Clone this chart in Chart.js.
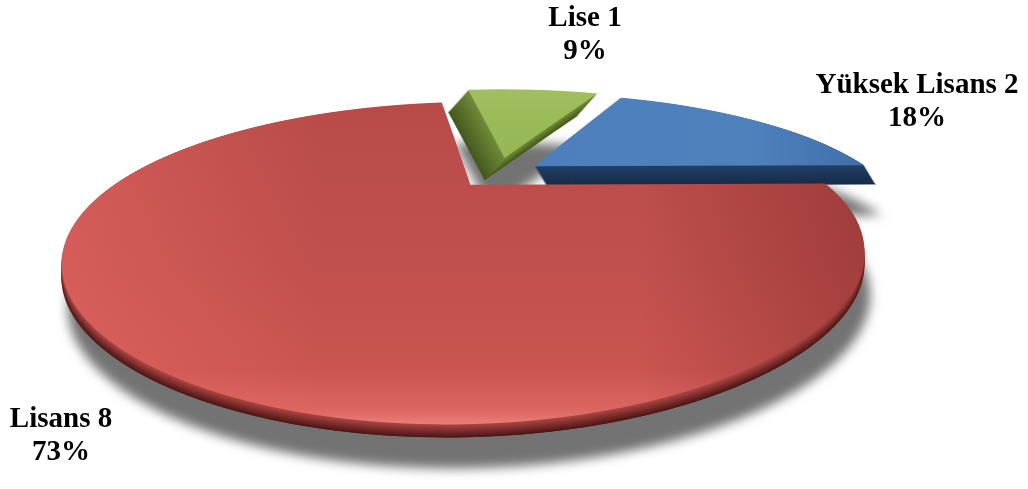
<!DOCTYPE html>
<html>
<head>
<meta charset="utf-8">
<script src="https://cdn.jsdelivr.net/npm/chart.js@4/dist/chart.umd.min.js"></script>
<style>
  html, body { margin: 0; padding: 0; background: #fff; overflow: hidden; }
</style>
</head>
<body>
<canvas id="pieChart" width="1028" height="489"></canvas>
<script>
var categories = ['Yüksek Lisans', 'Lisans', 'Lise'];
var counts = [2, 8, 1];

var topColors = ['#4F81BD', '#C0504D', '#9BBB59'];
var sideLight = ['#223F66', '#A94441', '#6F8B38'];
var sideDark = ['#172C48', '#4E1716', '#46591F'];
var explode = [0.13, 0.12, 0.153];   // in radii
var depth = [19, 13, 22];
var slant = [0.6, 0, -0.9];
var drawOrder = [2, 0, 1];           // back slices first
var labelAnchors = [[917, 93], [61, 427], [585, 26]];

// tilted view: screen x = x0 + a*u/(1-px*v), y = y0 + b*v/(1-p*v)
var view = { x0: 498, y0: 174, a: 342, b: 113, p: 0.465, px: 0.44 };
var W = 1028, H = 489;

var total = counts.reduce(function (s, v) { return s + v; }, 0);

function vAt(Y) {
    var t = Y - view.y0;
    return t / (view.b + view.p * t);
}

function newCanvas() {
    var c = document.createElement('canvas');
    c.width = W; c.height = H;
    return c;
}

function hex(c) {
    return [parseInt(c.substr(1, 2), 16), parseInt(c.substr(3, 2), 16), parseInt(c.substr(5, 2), 16)];
}
function mix(c1, c2, t) {
    var a = hex(c1), b = hex(c2);
    return 'rgb(' + a.map(function (v, k) { return Math.round(v + (b[k] - v) * t); }).join(',') + ')';
}

// draw one arc element row by row through the tilted projection
function paintSlice(el, i, cx, cy, R) {
    var c = newCanvas();
    var g = c.getContext('2d');
    var mid = (el.startAngle + el.endAngle) / 2;
    var ox = Math.cos(mid) * explode[i] * R;
    var oy = Math.sin(mid) * explode[i] * R;
    for (var Y = 40; Y < 480; Y++) {
        var va = vAt(Y), vb = vAt(Y + 1);
        var vm = (va + vb) / 2;
        var sx = view.a / (1 - view.px * vm) / R;
        var sy = 1 / ((vb - va) * R);
        g.save();
        g.beginPath();
        g.rect(0, Y, W, 1);
        g.clip();
        g.setTransform(sx, 0, 0, sy, view.x0 - sx * cx, Y - sy * (cy + va * R));
        g.translate(ox, oy);
        el.draw(g);
        g.restore();
    }
    return c;
}

function shadeTop(c, i) {
    var g = c.getContext('2d');
    g.globalCompositeOperation = 'source-atop';
    var lg;
    if (i === 1) {
        lg = g.createLinearGradient(0, 100, 0, 430);
        lg.addColorStop(0, '#B84B48');
        lg.addColorStop(0.5, '#C0504D');
        lg.addColorStop(0.82, '#CA5551');
        lg.addColorStop(0.94, '#DC6662');
        lg.addColorStop(1, '#F08884');
        g.fillStyle = lg;
        g.fillRect(0, 0, W, H);
        var left = g.createLinearGradient(55, 0, 320, 0);
        left.addColorStop(0, 'rgba(240,110,105,0.45)');
        left.addColorStop(1, 'rgba(240,110,105,0)');
        g.fillStyle = left;
        g.fillRect(0, 0, W, H);
        var right = g.createLinearGradient(640, 0, 868, 0);
        right.addColorStop(0, 'rgba(90,20,20,0)');
        right.addColorStop(1, 'rgba(90,20,20,0.3)');
        g.fillStyle = right;
        g.fillRect(0, 0, W, H);
    } else if (i === 0) {
        lg = g.createLinearGradient(520, 0, 900, 0);
        lg.addColorStop(0, '#4C7FBC');
        lg.addColorStop(0.6, '#4F81BD');
        lg.addColorStop(1, '#3B6AA3');
        g.fillStyle = lg;
        g.fillRect(0, 0, W, H);
    } else {
        lg = g.createLinearGradient(0, 90, 0, 165);
        lg.addColorStop(0, '#A0BF5E');
        lg.addColorStop(1, '#93B552');
        g.fillStyle = lg;
        g.fillRect(0, 0, W, H);
    }
    g.globalCompositeOperation = 'source-over';
}

var tintCanvas = null;
function tint(src, color) {
    if (!tintCanvas) tintCanvas = newCanvas();
    var g = tintCanvas.getContext('2d');
    g.globalCompositeOperation = 'source-over';
    g.clearRect(0, 0, W, H);
    g.drawImage(src, 0, 0);
    g.globalCompositeOperation = 'source-in';
    g.fillStyle = color;
    g.fillRect(0, 0, W, H);
    g.globalCompositeOperation = 'source-over';
    return tintCanvas;
}

var perspectivePlugin = {
    id: 'perspective',
    beforeDatasetsDraw: function (chart) {
        var ctx = chart.ctx;
        var meta = chart.getDatasetMeta(0);
        var first = meta.data[0];
        var cx = first.x, cy = first.y, R = first.outerRadius;
        drawOrder.forEach(function (i) {
            var face = paintSlice(meta.data[i], i, cx, cy, R);
            ctx.save();
            ctx.shadowColor = 'rgba(0,0,0,0.55)';
            ctx.shadowBlur = 11;
            ctx.shadowOffsetX = 6;
            ctx.shadowOffsetY = 31;
            ctx.drawImage(tint(face, sideDark[i]), slant[i] * depth[i], depth[i]);
            ctx.restore();
            for (var d = depth[i]; d >= 1; d--) {
                var t = (d - 1) / Math.max(1, depth[i] - 1);
                ctx.drawImage(tint(face, mix(sideLight[i], sideDark[i], t)), slant[i] * d, d);
            }
            shadeTop(face, i);
            ctx.drawImage(face, 0, 0);
        });
        return false;
    },
    afterDraw: function (chart) {
        var ctx = chart.ctx;
        ctx.save();
        ctx.font = 'bold 29px "Liberation Serif", "Times New Roman", serif';
        ctx.textAlign = 'center';
        ctx.textBaseline = 'alphabetic';
        ctx.fillStyle = '#000';
        categories.forEach(function (name, i) {
            var pct = Math.round(counts[i] / total * 100) + '%';
            ctx.fillText(name + ' ' + counts[i], labelAnchors[i][0], labelAnchors[i][1]);
            ctx.fillText(pct, labelAnchors[i][0], labelAnchors[i][1] + 33);
        });
        ctx.restore();
    }
};

var pieCtx = document.getElementById('pieChart').getContext('2d');
var pieChart = new Chart(pieCtx, {
    type: 'pie',
    data: {
        labels: categories,
        datasets: [{
            data: counts,
            backgroundColor: topColors,
            borderWidth: 0,
            offset: 0,
            hoverOffset: 0
        }]
    },
    options: {
        responsive: false,
        animation: false,
        events: [],
        rotation: 24,
        radius: 150,
        layout: { padding: 0 },
        plugins: {
            legend: { display: false },
            tooltip: { enabled: false }
        }
    },
    plugins: [perspectivePlugin]
});
</script>
</body>
</html>
